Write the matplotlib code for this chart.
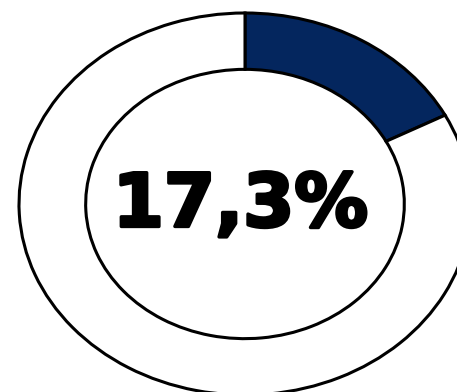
import matplotlib
matplotlib.use("Agg")
import matplotlib.pyplot as plt
import matplotlib.patheffects as pe

# share shown in the ring, in percent
share_label = "17,3%"
values = [17.3, 82.7]
colors = ["#04265e", "#ffffff"]

W, H = 457, 392
fig = plt.figure(figsize=(W / 100, H / 100), dpi=100)
fig.patch.set_facecolor("white")

# axes box in pixels: ring centre at (245, 204) from top, radii 226 x 191
cx, cy, rx, ry = 245, 204, 226, 191
ax = fig.add_axes([(cx - rx) / W, (H - cy - ry) / H, 2 * rx / W, 2 * ry / H])

wedges, _ = ax.pie(
    values,
    colors=colors,
    startangle=90,
    counterclock=False,
    radius=1.0,
    wedgeprops=dict(width=0.295, edgecolor="black", linewidth=2.2),
)
for w in wedges:
    w.set_clip_on(False)

ax.set_aspect("auto")
ax.set_xlim(-1, 1)
ax.set_ylim(-1, 1)
ax.axis("off")

ax.text(-0.02, -0.01, share_label, ha="center", va="center",
        fontsize=53, fontweight="bold", family=["DejaVu Sans"],
        color="black",
        path_effects=[pe.withStroke(linewidth=2.5, foreground="black")])

fig.savefig("out.png", dpi=100, facecolor="white")
